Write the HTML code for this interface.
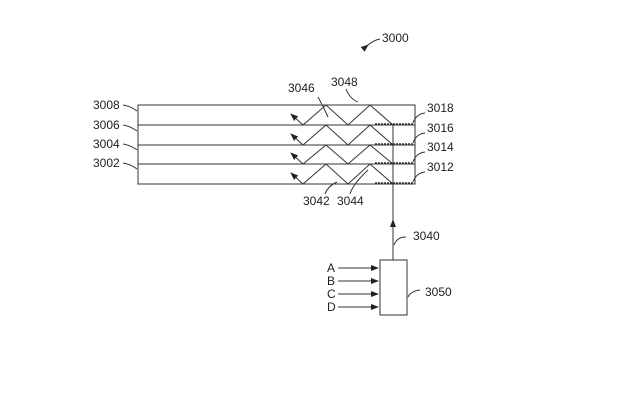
<!DOCTYPE html><html><head><style>body{margin:0;background:#fff}</style></head><body>
<svg width="617" height="406" viewBox="0 0 617 406" xmlns="http://www.w3.org/2000/svg" font-family="Liberation Sans, sans-serif" font-size="12" fill="#222">
<defs><marker id="a" markerWidth="8" markerHeight="8" refX="7" refY="4" orient="auto" markerUnits="userSpaceOnUse"><path d="M0,1 L8,4 L0,7z" fill="#222"/></marker></defs>
<g stroke="#333" fill="none" stroke-width="1">
<rect x="138" y="105" width="277" height="79"/>
<line x1="138" y1="125" x2="415" y2="125"/><line x1="138" y1="145" x2="415" y2="145"/><line x1="138" y1="164" x2="415" y2="164"/>
<polyline points="303,125 326,105 348,125 370,105 393,125"/>
<polyline points="303,145 326,125 348,145 370,125 393,145"/>
<polyline points="303,164 326,145 348,164 370,145 393,164"/>
<polyline points="303,184 326,164 348,184 370,164 393,184"/>
<line x1="303" y1="125" x2="291" y2="114" marker-end="url(#a)"/>
<line x1="303" y1="145" x2="291" y2="134" marker-end="url(#a)"/>
<line x1="303" y1="164" x2="291" y2="153" marker-end="url(#a)"/>
<line x1="303" y1="184" x2="291" y2="173" marker-end="url(#a)"/>
<g stroke-dasharray="2,1" stroke-width="1.5"><line x1="375" y1="124" x2="413" y2="124"/><line x1="375" y1="144" x2="413" y2="144"/><line x1="375" y1="163" x2="413" y2="163"/><line x1="375" y1="183" x2="413" y2="183"/></g>
<line x1="393" y1="260" x2="393" y2="220" marker-end="url(#a)"/>
<line x1="393" y1="220" x2="393" y2="125"/>
<rect x="380" y="260" width="27" height="55"/>
<line x1="338" y1="268" x2="378" y2="268" marker-end="url(#a)"/>
<line x1="338" y1="281" x2="378" y2="281" marker-end="url(#a)"/>
<line x1="338" y1="294" x2="378" y2="294" marker-end="url(#a)"/>
<line x1="338" y1="307" x2="378" y2="307" marker-end="url(#a)"/>
<path d="M123,105 q7,1 14,6"/><path d="M123,125 q7,1 14,6"/><path d="M123,144 q7,1 14,6"/><path d="M123,163 q7,1 14,6"/>
<path d="M413,123 q3,-9 12,-10"/><path d="M413,143 q3,-9 12,-10"/><path d="M413,162 q3,-9 12,-10"/><path d="M413,182 q3,-9 12,-10"/>
<path d="M318,97 q5,9 10,20"/><path d="M346,89 q4,10 12,13"/>
<path d="M325,194 q3,-8 12,-12"/><path d="M350,194 q3,-10 18,-24"/>
<path d="M394,245 q3,-8 12,-8"/><path d="M408,297 q3,-6 12,-7"/>
<path d="M368,45 q6,-5 12,-6" marker-start="url(#a)"/>
</g>
<text x="382" y="42">3000</text>
<text x="93" y="109">3008</text><text x="93" y="129">3006</text><text x="93" y="148">3004</text><text x="93" y="167">3002</text>
<text x="427" y="112">3018</text><text x="427" y="132">3016</text><text x="427" y="151">3014</text><text x="427" y="171">3012</text>
<text x="288" y="92">3046</text><text x="331" y="86">3048</text>
<text x="303" y="205">3042</text><text x="337" y="205">3044</text>
<text x="413" y="240">3040</text><text x="425" y="296">3050</text>
<text x="327" y="272">A</text><text x="327" y="285">B</text><text x="327" y="298">C</text><text x="327" y="311">D</text>
</svg></body></html>
